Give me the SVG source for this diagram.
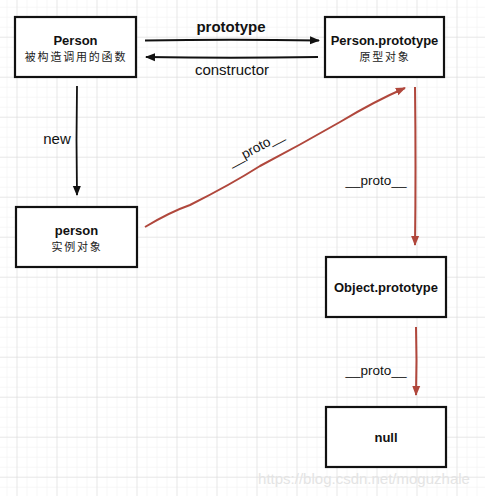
<svg xmlns="http://www.w3.org/2000/svg" width="485" height="496" viewBox="0 0 485 496">
<defs>
<pattern id="minor" x="6.5" y="6.7" width="10" height="10" patternUnits="userSpaceOnUse">
<path d="M0 0H10M0 0V10" fill="none" stroke="#f0f0f0" stroke-width="1"/>
</pattern>
<pattern id="major" x="16.5" y="36.7" width="40" height="40" patternUnits="userSpaceOnUse">
<path d="M0 0H40M0 0V40" fill="none" stroke="#d9d9d9" stroke-width="1"/>
</pattern>
<marker id="ab" viewBox="0 0 10 10" refX="9" refY="5" markerWidth="10" markerHeight="10" markerUnits="userSpaceOnUse" orient="auto">
<path d="M0 1L10 5L0 9Z" fill="#111"/>
</marker>
<marker id="ar" viewBox="0 0 10 10" refX="9" refY="5" markerWidth="10" markerHeight="10" markerUnits="userSpaceOnUse" orient="auto">
<path d="M0 1L10 5L0 9Z" fill="#b0473c"/>
</marker>
</defs>
<style>
.box{fill:#fff;stroke:#111;stroke-width:2.2}
.t{font-family:"Liberation Sans","DejaVu Sans",sans-serif;font-weight:bold;font-size:13px;fill:#111;text-anchor:middle}
.c{font-family:"Noto Sans CJK SC","Liberation Sans",sans-serif;font-size:11px;fill:#222;text-anchor:middle;letter-spacing:1.8px}
.lb{font-family:"Liberation Sans","DejaVu Sans",sans-serif;font-size:15px;fill:#111;text-anchor:middle}
.pr{font-family:"Liberation Sans","DejaVu Sans",sans-serif;font-size:13.5px;fill:#111;text-anchor:middle}
.bl{fill:none;stroke:#111;stroke-width:1.8}
.rd{fill:none;stroke:#b0473c;stroke-width:2}
</style>
<rect width="485" height="496" fill="#fff"/>
<rect width="485" height="496" fill="url(#minor)"/>
<rect width="485" height="496" fill="url(#major)"/>

<g id="connectors">
<path class="bl" d="M145 40.5Q230 39 319 40.5" marker-end="url(#ab)"/>
<text class="lb" x="231" y="32" font-weight="bold" font-size="13.5">prototype</text>
<path class="bl" d="M318 57Q230 58.5 146 57" marker-end="url(#ab)"/>
<text class="lb" x="232" y="75">constructor</text>
<path class="bl" d="M77 86Q76 140 77 195" marker-end="url(#ab)"/>
<text class="lb" x="57" y="144">new</text>
<path class="rd" d="M145 227Q170 212 190 205Q230 185 260 166Q300 145 340 122Q375 101 405 88" marker-end="url(#ar)"/>
<text class="pr" x="258" y="152" transform="rotate(-28 258 152)">__proto__</text>
<path class="rd" d="M415 87Q416 170 415 245" marker-end="url(#ar)"/>
<text class="pr" x="376" y="185">__proto__</text>
<path class="rd" d="M416 327Q417 360 416 395" marker-end="url(#ar)"/>
<text class="pr" x="376" y="375">__proto__</text>
</g>

<g id="person-fn">
<rect class="box" x="15" y="17" width="121" height="60"/>
<text class="t" x="75.5" y="45">Person</text>
<text class="c" x="76" y="61">被构造调用的函数</text>
</g>
<g id="person-prototype">
<rect class="box" x="325" y="17" width="119" height="60"/>
<text class="t" x="384.5" y="45">Person.prototype</text>
<text class="c" x="385" y="61">原型对象</text>
</g>
<g id="person-instance">
<rect class="box" x="16" y="207" width="121" height="60"/>
<text class="t" x="76.5" y="235">person</text>
<text class="c" x="77" y="251">实例对象</text>
</g>
<g id="object-prototype">
<rect class="box" x="326" y="257" width="120" height="60"/>
<text class="t" x="386" y="292">Object.prototype</text>
</g>
<g id="null">
<rect class="box" x="326" y="407" width="120" height="60"/>
<text class="t" x="386" y="442">null</text>
</g>
<text x="364" y="484" font-family="Liberation Sans,sans-serif" font-size="15" fill="#e4e4e4" text-anchor="middle">https://blog.csdn.net/moguzhale</text>
</svg>
